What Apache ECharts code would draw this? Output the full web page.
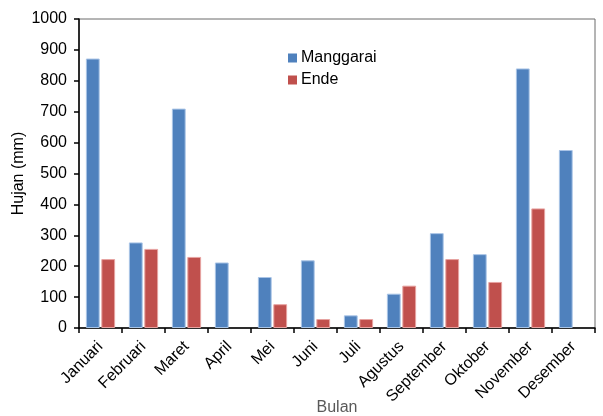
<!DOCTYPE html>
<html>
<head>
<meta charset="utf-8">
<style>
  html, body { margin: 0; padding: 0; background: #fff; }
  #chart { width: 603px; height: 416px; }
</style>
<script src="https://cdn.jsdelivr.net/npm/echarts@6/dist/echarts.min.js"></script>
</head>
<body>
<div id="chart"></div>
<script>
// Monthly rainfall (mm) for two stations
const months = ['Januari', 'Februari', 'Maret', 'April', 'Mei', 'Juni', 'Juli',
                'Agustus', 'September', 'Oktober', 'November', 'Desember'];
const manggarai = [872, 277, 710, 212, 165, 219, 41, 111, 307, 239, 840, 576];
const ende      = [223, 256, 230, null, 77, 29, 29, 137, 223, 149, 387, null];
const yTicks = { min: 0, max: 1000, step: 100 };

const font = 'Liberation Sans, Arial, sans-serif';
const chart = echarts.init(document.getElementById('chart'), null, { renderer: 'canvas' });

chart.setOption({
  animation: false,
  backgroundColor: '#fff',
  textStyle: { fontFamily: font },
  grid: {
    left: 79, right: 8, top: 19, bottom: 88,
    outerBoundsMode: 'none',
    containLabel: false,
    show: true, borderColor: '#6b6b6b', borderWidth: 1, backgroundColor: 'transparent'
  },
  legend: {
    orient: 'vertical',
    left: 283, top: 45,
    itemWidth: 9, itemHeight: 9, itemGap: 6,
    icon: 'rect',
    itemStyle: { borderWidth: 0 },
    textStyle: { fontSize: 16, color: '#000', fontFamily: font, padding: [0, 0, 0, -1] },
    data: ['Manggarai', 'Ende']
  },
  xAxis: {
    type: 'category',
    data: months,
    name: 'Bulan',
    nameLocation: 'middle',
    nameGap: 72,
    nameMoveOverlap: false,
    nameTextStyle: { fontSize: 16, color: '#595959', fontFamily: font },
    axisLine: { lineStyle: { color: '#000', width: 1.5 } },
    axisTick: { show: true, length: 5, lineStyle: { color: '#000', width: 1.5 } },
    axisLabel: { rotate: 45, margin: 16, fontSize: 16, color: '#000', fontFamily: font, interval: 0 }
  },
  yAxis: {
    type: 'value',
    min: yTicks.min, max: yTicks.max, interval: yTicks.step,
    name: 'Hujan (mm)',
    nameLocation: 'middle',
    nameGap: 52,
    nameMoveOverlap: false,
    nameTextStyle: { fontSize: 16, color: '#000', fontFamily: font },
    axisLine: { show: true, lineStyle: { color: '#000', width: 1.5 } },
    axisTick: { show: true, length: 5, lineStyle: { color: '#000', width: 1.5 } },
    axisLabel: { fontSize: 16, color: '#000', margin: 12, fontFamily: font, formatter: v => String(v) },
    splitLine: { show: false }
  },
  series: [
    {
      name: 'Manggarai', type: 'bar', data: manggarai,
      barCategoryGap: '32%', barGap: '12%',
      itemStyle: { color: '#4f81bd', borderColor: '#a9c4e6', borderWidth: 1 }
    },
    {
      name: 'Ende', type: 'bar', data: ende,
      itemStyle: { color: '#c0504d', borderColor: '#e7a3a1', borderWidth: 1 }
    }
  ]
});
</script>
</body>
</html>
